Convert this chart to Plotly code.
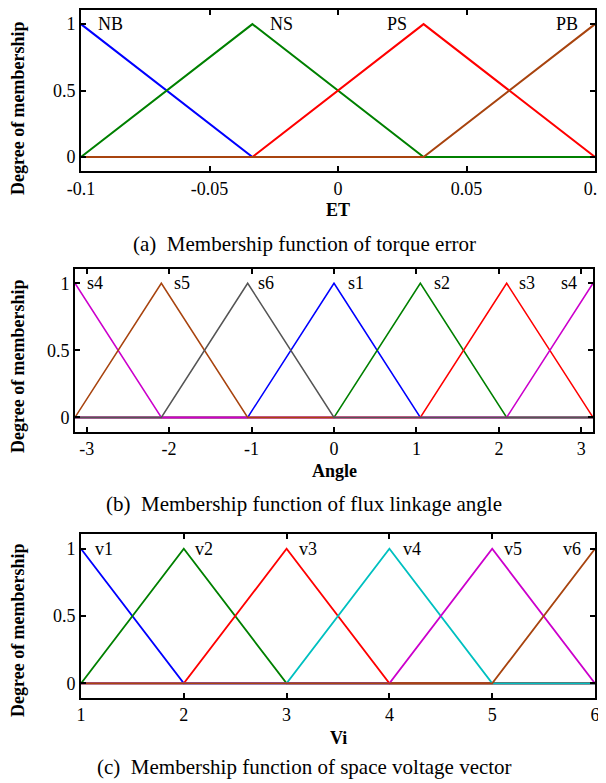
import math
import plotly.graph_objects as go

# Browser body has an 8px default margin: the figure starts at (8, 8) on screen.
OFF = 8
W, H = 606 - OFF, 783 - OFF
PI = math.pi

# ---------------- data ----------------
# Panel (a): torque error membership functions (triangles a, b, c)
et_names = ["NB", "NS", "PS", "PB"]
et_params = [(-0.1, -0.1, -0.0333), (-0.1, -0.0333, 0.0333),
             (-0.0333, 0.0333, 0.1), (0.0333, 0.1, 0.1)]
et_colors = ["#0000FF", "#008000", "#FF0000", "#A8440F"]
et_label_x = [-0.0887, -0.0218, 0.023, 0.0891]
et_range = [-0.1, 0.1]
et_ticks = [-0.1, -0.05, 0, 0.05, 0.1]
et_ticktext = ["-0.1", "-0.05", "0", "0.05", "0.1"]

# Panel (b): flux linkage angle (drawing order s1..s6, s4 has two parts)
ang_names = ["s1", "s2", "s3", "s4", "s4", "s5", "s6"]
ang_params = [(-PI / 3, 0, PI / 3), (0, PI / 3, 2 * PI / 3), (PI / 3, 2 * PI / 3, PI),
              (-PI, -PI, -2 * PI / 3), (2 * PI / 3, PI, PI),
              (-PI, -2 * PI / 3, -PI / 3), (-2 * PI / 3, -PI / 3, 0)]
ang_colors = ["#0000FF", "#008000", "#FF0000", "#CC00CC", "#CC00CC", "#A8440F", "#555555"]
ang_label_x = [0.263, 1.315, 2.346, -2.894, 2.846, -1.838, -0.828]
ang_range = [-PI, PI]
ang_ticks = [-3, -2, -1, 0, 1, 2, 3]

# Panel (c): space voltage vector
vi_names = ["v1", "v2", "v3", "v4", "v5", "v6"]
vi_params = [(1, 1, 2), (1, 2, 3), (2, 3, 4), (3, 4, 5), (4, 5, 6), (5, 6, 6)]
vi_colors = ["#0000FF", "#008000", "#FF0000", "#00C0C0", "#CC00CC", "#A8440F"]
vi_label_x = [1.224, 2.197, 3.21, 4.217, 5.203, 5.773]
vi_range = [1, 6]
vi_ticks = [1, 2, 3, 4, 5, 6]

y_ticks = [0, 0.5, 1]
y_ticktext = ["0", "0.5", "1"]
y_range = [-0.105, 1.11]

captions = ["(a)  Membership function of torque error",
            "(b)  Membership function of flux linkage angle",
            "(c)  Membership function of space voltage vector"]
x_titles = ["ET", "Angle", "Vi"]
y_title = "Degree of membership"

SERIF = "Liberation Serif, Times New Roman, serif"


def xp(px):
    return (px - OFF) / W


def yp(py):
    return 1 - (py - OFF) / H


def tri_xy(p, rng):
    a, b, c = p
    xs = [rng[0], a, b, c, rng[1]]
    ys = [0.0, 0.0, 1.0, 0.0, 0.0]
    if a == b:
        ys[1] = 1.0
        if a == rng[0]:
            ys[0] = 1.0
    if b == c:
        ys[3] = 1.0
        if c == rng[1]:
            ys[4] = 1.0
    return xs, ys


fig = go.Figure()

# screen pixel boxes: (left, right, top, bottom)
boxes = [(81, 595, 9.5, 171), (75, 593, 268.5, 431.5), (81, 595, 534, 697.5)]
panels = [
    (et_params, et_colors, et_names, et_label_x, et_range, et_ticks, et_ticktext, 2.0),
    (ang_params, ang_colors, ang_names, ang_label_x, ang_range, ang_ticks,
     [str(t) for t in ang_ticks], 1.5),
    (vi_params, vi_colors, vi_names, vi_label_x, vi_range, vi_ticks,
     [str(t) for t in vi_ticks], 1.8),
]
title_y = [210, 471, 738]
cap_y = [244, 504, 767]
ytitle_c = [108, 366, 630]

annotations = []
for i, (params, cols, names, lx, rng, ticks, ttext, lw) in enumerate(panels):
    xa = "x" if i == 0 else f"x{i + 1}"
    ya = "y" if i == 0 else f"y{i + 1}"
    for p, c in zip(params, cols):
        xs, ys = tri_xy(p, rng)
        fig.add_trace(go.Scatter(x=xs, y=ys, mode="lines", line=dict(color=c, width=lw),
                                 xaxis=xa, yaxis=ya, showlegend=False, hoverinfo="skip"))
    for n, x in zip(names, lx):
        annotations.append(dict(x=x, y=1.0, xref=xa, yref=ya, text=n, showarrow=False,
                                font=dict(family=SERIF, size=18, color="black"),
                                xanchor="center", yanchor="middle"))
    l, r, t, b = boxes[i]
    axkey = "xaxis" if i == 0 else f"xaxis{i + 1}"
    aykey = "yaxis" if i == 0 else f"yaxis{i + 1}"
    fig.layout[axkey] = dict(domain=[xp(l), xp(r)], range=rng, anchor=ya, automargin=False,
                             tickvals=ticks, ticktext=ttext, ticks="inside", ticklen=5,
                             tickwidth=1.5, tickcolor="black", showline=True, linecolor="black",
                             linewidth=2, mirror="ticks", showgrid=False, zeroline=False,
                             ticklabeloverflow="allow",
                             tickfont=dict(family=SERIF, size=18, color="black"))
    fig.layout[aykey] = dict(domain=[yp(b), yp(t)], range=y_range, anchor=xa,
                             automargin=False, ticklabeloverflow="allow",
                             tickvals=y_ticks, ticktext=y_ticktext, ticks="inside", ticklen=5,
                             tickwidth=1.5, tickcolor="black", showline=True, linecolor="black",
                             linewidth=2, mirror="ticks", showgrid=False, zeroline=False,
                             tickfont=dict(family=SERIF, size=18, color="black"))
    # x title
    annotations.append(dict(x=xp((l + r) / 2), y=yp(title_y[i]), xref="paper", yref="paper",
                            text=f"<b>{x_titles[i]}</b>", showarrow=False,
                            font=dict(family=SERIF, size=18, color="black"),
                            xanchor="center", yanchor="middle"))
    # y title
    annotations.append(dict(x=xp(18), y=yp(ytitle_c[i]),
                            xref="paper", yref="paper",
                            text=f"<b>{y_title}</b>", showarrow=False, textangle=-90,
                            font=dict(family=SERIF, size=18, color="black"),
                            xanchor="center", yanchor="middle"))
    # caption
    annotations.append(dict(x=xp(304), y=yp(cap_y[i]), xref="paper", yref="paper",
                            text=captions[i], showarrow=False,
                            font=dict(family=SERIF, size=21, color="black"),
                            xanchor="center", yanchor="middle"))

fig.update_layout(width=W, height=H, autosize=False,
                  margin=dict(l=0, r=0, t=0, b=0),
                  paper_bgcolor="white", plot_bgcolor="white",
                  annotations=annotations)

fig.write_html("out.html")
